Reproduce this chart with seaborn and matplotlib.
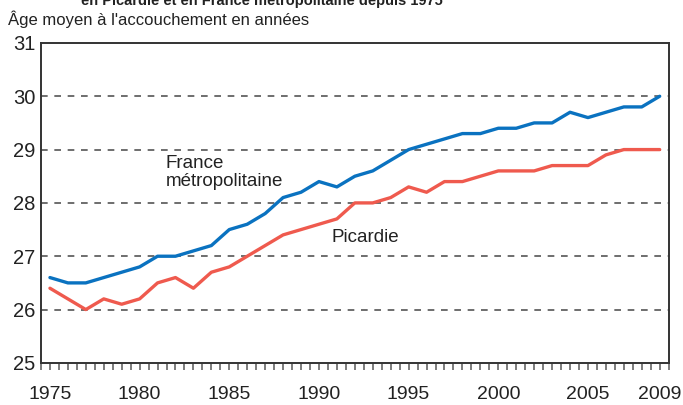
import numpy as np
import pandas as pd
import matplotlib
matplotlib.use("Agg")
import matplotlib.pyplot as plt
from matplotlib.ticker import MultipleLocator, FixedLocator
import seaborn as sns

# Data
years = list(range(1975, 2010))
france = [26.6, 26.5, 26.5, 26.6, 26.7, 26.8, 27.0, 27.0, 27.1, 27.2,
          27.5, 27.6, 27.8, 28.1, 28.2, 28.4, 28.3, 28.5, 28.6, 28.8,
          29.0, 29.1, 29.2, 29.3, 29.3, 29.4, 29.4, 29.5, 29.5, 29.7,
          29.6, 29.7, 29.8, 29.8, 30.0]
picardie = [26.4, 26.2, 26.0, 26.2, 26.1, 26.2, 26.5, 26.6, 26.4, 26.7,
            26.8, 27.0, 27.2, 27.4, 27.5, 27.6, 27.7, 28.0, 28.0, 28.1,
            28.3, 28.2, 28.4, 28.4, 28.5, 28.6, 28.6, 28.6, 28.7, 28.7,
            28.7, 28.9, 29.0, 29.0, 29.0]
x_labels = [1975, 1980, 1985, 1990, 1995, 2000, 2005, 2009]
y_ticks = [25, 26, 27, 28, 29, 30, 31]

df = pd.DataFrame({
    'annee': years * 2,
    'age': france + picardie,
    'zone': ['France'] * len(years) + ['Picardie'] * len(years),
})

sns.set_style("white")
plt.rcParams['font.family'] = ['Liberation Sans', 'DejaVu Sans']

fig = plt.figure(figsize=(6.83, 4.05), dpi=100)
ax = fig.add_axes([0.060, 0.104, 0.919, 0.790])

# dashed gridlines first so the lines sit on top
for y in y_ticks[1:-1]:
    ax.axhline(y, color='#555555', lw=1.2, ls=(0, (4, 4)), zorder=1)

sns.lineplot(data=df, x='annee', y='age', hue='zone',
             palette={'France': '#0a72c0', 'Picardie': '#ef5a4e'},
             lw=2.4, legend=False, ax=ax, zorder=3)

ax.set_xlim(1974.5, 2009.5)
ax.set_ylim(25, 31)
ax.xaxis.set_major_locator(FixedLocator(x_labels))
ax.xaxis.set_minor_locator(MultipleLocator(0.5))
ax.set_yticks(y_ticks)
ax.tick_params(axis='x', which='both', direction='out', length=5, width=1.2,
               color='#666666', labelsize=14, pad=12, bottom=True,
               labelcolor='#222222')
ax.tick_params(axis='y', length=0, labelsize=14.5, pad=4, labelcolor='#222222')
ax.set_xlabel('')
ax.set_ylabel('')

for s in ax.spines.values():
    s.set_color('#333333')
    s.set_linewidth(1.4)

ax.text(1981.45, 28.9, 'France\nmétropolitaine', fontsize=13.5,
        ha='left', va='top', linespacing=1.1, color='#222222')
ax.text(1990.7, 27.36, 'Picardie', fontsize=13.5, ha='left', va='center',
        color='#222222')

fig.text(0.011, 0.952, "Âge moyen à l'accouchement en années", fontsize=12,
         ha='left', va='center', color='#222222')
fig.text(0.384, 0.998, "en Picardie et en France métropolitaine depuis 1975",
         fontsize=10.5, fontweight='bold', ha='center', va='center',
         color='#222222')

fig.savefig('out.png', dpi=100)
